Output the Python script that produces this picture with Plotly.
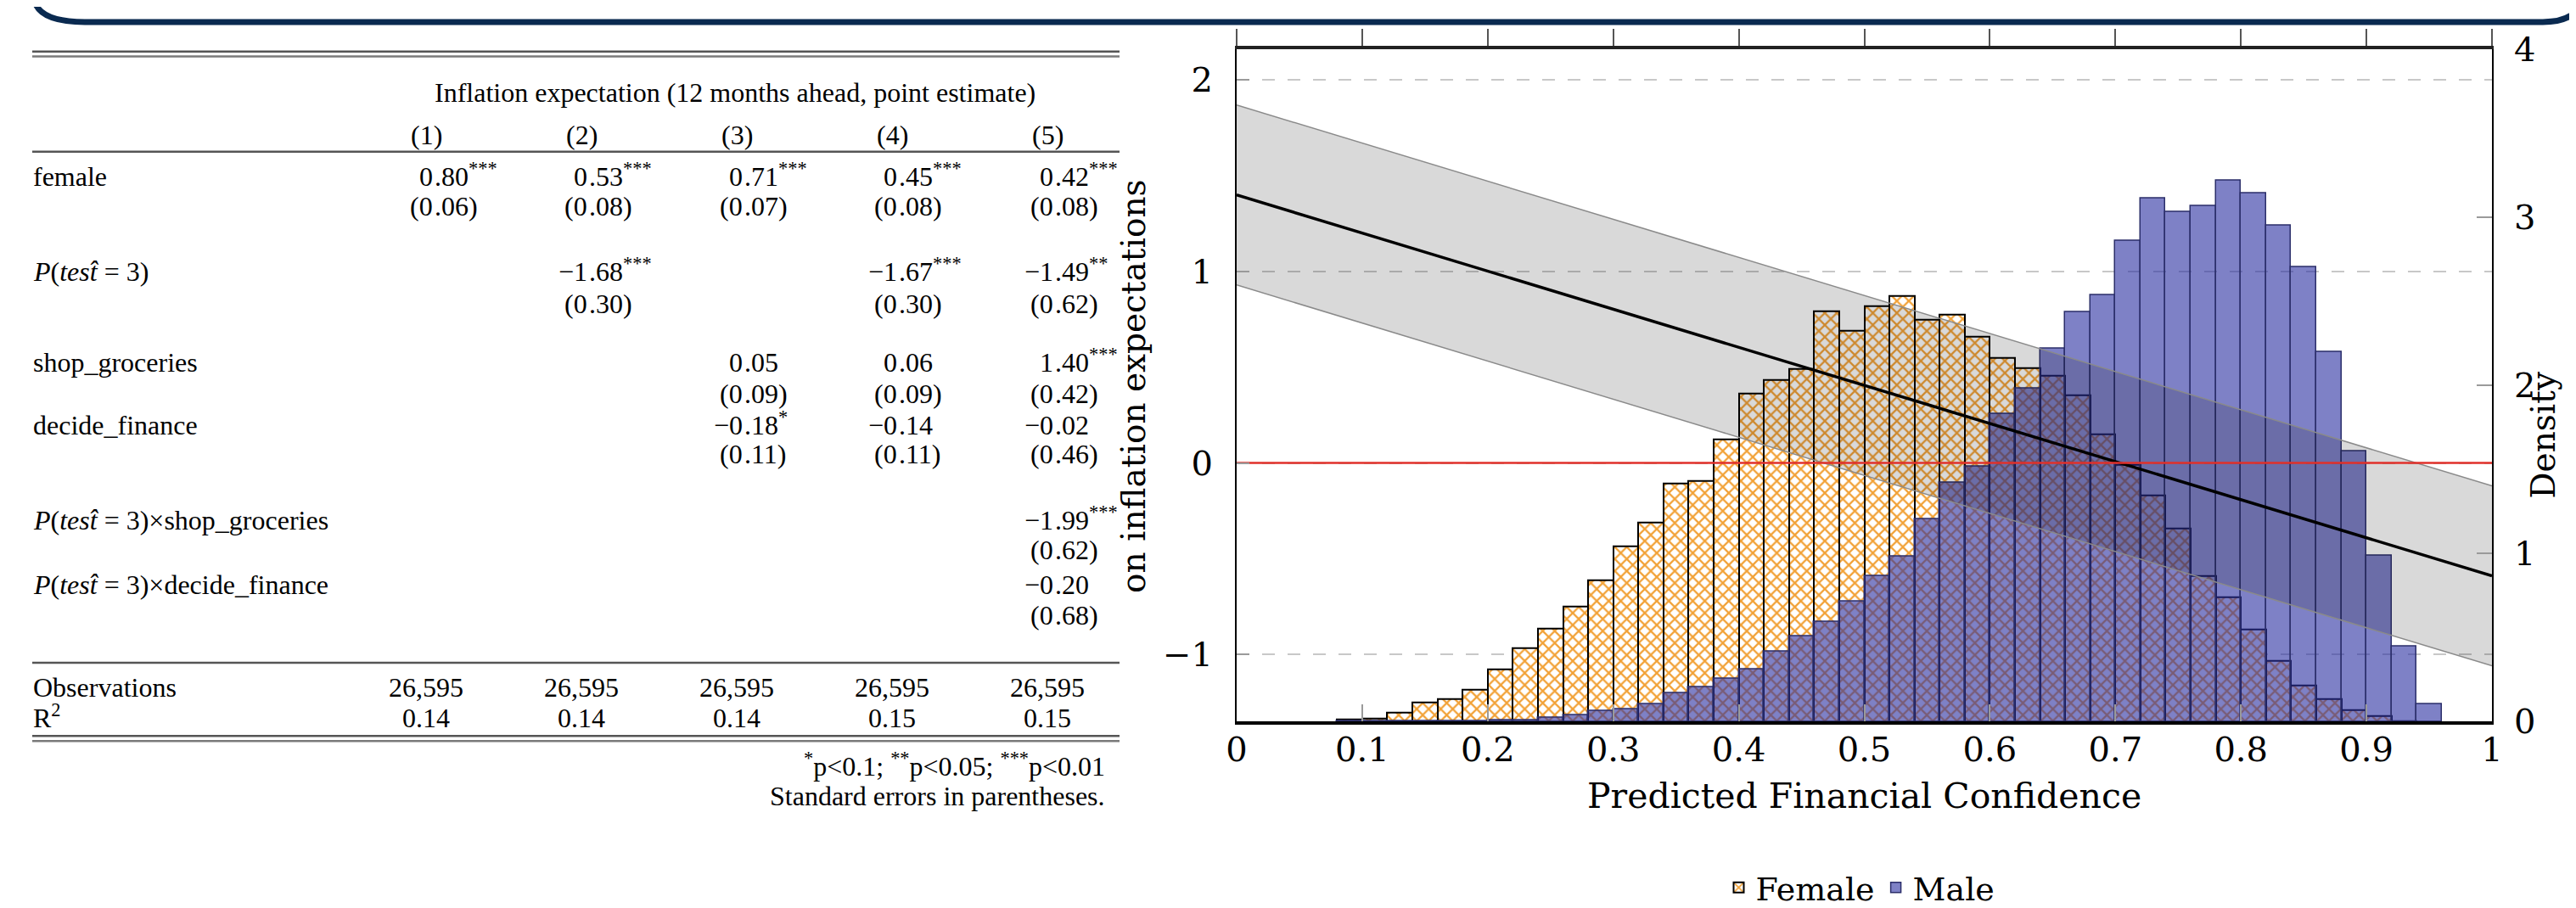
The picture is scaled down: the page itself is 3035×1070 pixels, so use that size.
import plotly.graph_objects as go

W, H = 3035, 1070
SERIF = "Liberation Serif, DejaVu Serif, serif"
CHART_SERIF = "DejaVu Serif, Liberation Serif, serif"

# ---------------- table data ----------------
table_header = "Inflation expectation (12 months ahead, point estimate)"
col_labels = ["(1)", "(2)", "(3)", "(4)", "(5)"]
row_labels = [
    "female",
    "<i>P</i>(<i>test\u0302</i> = 3)",
    "shop_groceries",
    "decide_finance",
    "<i>P</i>(<i>test\u0302</i> = 3)\u00d7shop_groceries",
    "<i>P</i>(<i>test\u0302</i> = 3)\u00d7decide_finance",
]
coef_female = ["0.80***", "0.53***", "0.71***", "0.45***", "0.42***"]
se_female = ["(0.06)", "(0.08)", "(0.07)", "(0.08)", "(0.08)"]
coef_ptest = [None, "\u22121.68***", None, "\u22121.67***", "\u22121.49**"]
se_ptest = [None, "(0.30)", None, "(0.30)", "(0.62)"]
coef_shop = [None, None, "0.05", "0.06", "1.40***"]
se_shop = [None, None, "(0.09)", "(0.09)", "(0.42)"]
coef_decide = [None, None, "\u22120.18*", "\u22120.14", "\u22120.02"]
se_decide = [None, None, "(0.11)", "(0.11)", "(0.46)"]
coef_int_shop = [None, None, None, None, "\u22121.99***"]
se_int_shop = [None, None, None, None, "(0.62)"]
coef_int_decide = [None, None, None, None, "\u22120.20"]
se_int_decide = [None, None, None, None, "(0.68)"]
observations = ["26,595", "26,595", "26,595", "26,595", "26,595"]
r_squared = ["0.14", "0.14", "0.14", "0.15", "0.15"]
footnote_1 = "<sup>*</sup>p&lt;0.1; <sup>**</sup>p&lt;0.05; <sup>***</sup>p&lt;0.01"
footnote_2 = "Standard errors in parentheses."

# ---------------- chart data ----------------
bin_left = [0.08, 0.10, 0.12, 0.14, 0.16, 0.18, 0.20, 0.22, 0.24, 0.26, 0.28,
            0.30, 0.32, 0.34, 0.36, 0.38, 0.40, 0.42, 0.44, 0.46, 0.48, 0.50,
            0.52, 0.54, 0.56, 0.58, 0.60, 0.62, 0.64, 0.66, 0.68, 0.70, 0.72,
            0.74, 0.76, 0.78, 0.80, 0.82, 0.84, 0.86, 0.88, 0.90, 0.92, 0.94]
bin_width = 0.02
female_density = [0.012, 0.017, 0.054, 0.114, 0.134, 0.19, 0.314, 0.439, 0.554,
                  0.686, 0.839, 1.042, 1.185, 1.415, 1.434, 1.68, 1.951, 2.034,
                  2.096, 2.44, 2.327, 2.47, 2.53, 2.392, 2.422, 2.288, 2.163,
                  2.105, 2.055, 1.939, 1.71, 1.527, 1.347, 1.15, 0.866, 0.741,
                  0.549, 0.364, 0.217, 0.133, 0.07, 0.036, 0.005, 0.0]
male_density = [0.003, 0.003, 0.004, 0.004, 0.004, 0.005, 0.007, 0.01, 0.024,
                0.037, 0.063, 0.075, 0.105, 0.168, 0.207, 0.256, 0.313, 0.417,
                0.51, 0.596, 0.716, 0.868, 0.981, 1.205, 1.42, 1.518, 1.831,
                1.984, 2.22, 2.435, 2.535, 2.861, 3.11, 3.03, 3.069, 3.218,
                3.143, 2.951, 2.703, 2.199, 1.607, 0.989, 0.45, 0.104]
effect_x = [0.0, 1.0]
effect_y = [1.40, -0.59]
ci_upper = [1.87, -0.12]
ci_lower = [0.93, -1.06]
zero_x = [0.0, 1.0]
zero_y = [0.0, 0.0]

x_ticks = [0, 0.1, 0.2, 0.3, 0.4, 0.5, 0.6, 0.7, 0.8, 0.9, 1]
left_ticks = [-1, 0, 1, 2]
right_ticks = [0, 1, 2, 3, 4]

# ---------------- layout helpers (pixel -> paper) ----------------
PLOT_L, PLOT_R, PLOT_T, PLOT_B = 1449, 2928, 50, 848


def px(x):
    return x / W


def py(y):
    return 1 - y / H


annotations = []


def text(x, y, s, xanchor="center", yanchor="middle", size=31, angle=0,
         family=SERIF):
    annotations.append(dict(
        x=px(x), y=py(y), xref="paper", yref="paper", text=s, showarrow=False,
        xanchor=xanchor, yanchor=yanchor, textangle=angle, borderpad=0,
        font=dict(family=family, size=size, color="black")))


TABLE_FONT = 32
BASE = 18  # offset from visual row centre to text-box bottom


def cell_text(x, y, s, xanchor):
    text(x, y + BASE, s, xanchor=xanchor, yanchor="bottom", size=TABLE_FONT)


def decimal_cell(dec_x, y, s):
    if s is None:
        return
    if "*" in s:
        i = s.index("*")
        num, stars = s[:i], s[i:]
    else:
        num, stars = s, ""
    d = num.index(".")
    left = num[:d]
    right = num[d:] + (f"<sup>{stars}</sup>" if stars else "")
    cell_text(dec_x, y, left, "right")
    cell_text(dec_x, y, right, "left")


# table geometry
TAB_L, TAB_R = 30, 1311
col_center = [494, 677, 860, 1043, 1226]
col_decimal = [503, 685, 868, 1050, 1234]
row_y = [202, 315, 423, 497, 610, 687]
se_y = [238, 353, 460, 532, 645, 723]
coef_rows = [coef_female, coef_ptest, coef_shop, coef_decide, coef_int_shop, coef_int_decide]
se_rows = [se_female, se_ptest, se_shop, se_decide, se_int_shop, se_int_decide]

cell_text(858, 103, table_header, "center")
for cx, lab in zip(col_center, col_labels):
    cell_text(cx, 153, lab, "center")
for lab, ry, sy, coefs, ses in zip(row_labels, row_y, se_y, coef_rows, se_rows):
    cell_text(TAB_L, ry, lab, "left")
    for dx, c, s in zip(col_decimal, coefs, ses):
        decimal_cell(dx, ry, c)
        decimal_cell(dx, sy, s)
cell_text(TAB_L, 808, "Observations", "left")
cell_text(TAB_L, 845, "R<sup>2</sup>", "left")
for cx, o, r in zip(col_center, observations, r_squared):
    cell_text(cx, 808, o, "center")
    cell_text(cx, 845, r, "center")
cell_text(1295, 902, footnote_1, "right")
cell_text(1295, 937, footnote_2, "right")

shapes = []


def hrule(y, color="#555555", width=2.5):
    shapes.append(dict(type="line", xref="paper", yref="paper",
                       x0=px(TAB_L), x1=px(TAB_R), y0=py(y), y1=py(y),
                       line=dict(color=color, width=width)))


hrule(53)
hrule(59, "#7a7a7a")
hrule(172)
hrule(778)
hrule(865)
hrule(871, "#7a7a7a")


def pp(x, y):
    return f"{px(x):.5f},{py(y):.5f}"


# navy frame (bottom of the slide block)
shapes.append(dict(
    type="path", xref="paper", yref="paper",
    path=(f"M {pp(33, -6)} Q {pp(40, 18)} {pp(92, 18)} L {pp(2988, 18)} "
          f"Q {pp(3026, 18)} {pp(3033, -6)}"),
    line=dict(color="#0a2a50", width=7)))

# chart titles
text(2188, 936, "Predicted Financial Confidence", size=41, family=CHART_SERIF)
text(2989, 508, "Density", size=39, angle=-90, family=CHART_SERIF)
text(1327, 450, "on inflation expectations", size=39, angle=-90,
     family=CHART_SERIF)

# ---------------- traces ----------------
fig = go.Figure()

fig.add_trace(go.Bar(
    x=bin_left, y=female_density, width=bin_width, offset=0, name="Female",
    xaxis="x", yaxis="y",
    marker=dict(color="white", line=dict(color="black", width=2),
                pattern=dict(shape="x", fgcolor="#f2a237", bgcolor="white",
                             size=10, solidity=0.4, fillmode="replace"))))
fig.add_trace(go.Bar(
    x=bin_left, y=male_density, width=bin_width, offset=0, name="Male",
    xaxis="x", yaxis="y",
    marker=dict(color="rgba(40,45,160,0.6)",
                line=dict(color="#2b2e6a", width=1.5))))

# top axis helper trace (no data)
fig.add_trace(go.Scatter(x=[], y=[], xaxis="x2", yaxis="y", showlegend=False,
                         hoverinfo="skip"))

fig.add_trace(go.Scatter(
    x=effect_x, y=ci_lower, mode="lines", xaxis="x", yaxis="y2", showlegend=False,
    line=dict(color="#8a8a8a", width=1.5)))
fig.add_trace(go.Scatter(
    x=effect_x, y=ci_upper, mode="lines", xaxis="x", yaxis="y2", showlegend=False,
    fill="tonexty", fillcolor="rgba(0,0,0,0.15)",
    line=dict(color="#8a8a8a", width=1.5)))
fig.add_trace(go.Scatter(
    x=effect_x, y=effect_y, mode="lines", xaxis="x", yaxis="y2", showlegend=False,
    line=dict(color="black", width=3.5)))
fig.add_trace(go.Scatter(
    x=zero_x, y=zero_y, mode="lines", xaxis="x", yaxis="y2", showlegend=False,
    line=dict(color="#e0302a", width=2.5)))

tickfont = dict(family=CHART_SERIF, size=40, color="black")
x_dom = [px(PLOT_L), px(PLOT_R)]
y_dom = [py(PLOT_B), py(PLOT_T)]

fig.update_layout(
    width=W, height=H,
    margin=dict(l=0, r=0, t=0, b=0),
    paper_bgcolor="white", plot_bgcolor="white",
    barmode="overlay", bargap=0,
    showlegend=True,
    legend=dict(orientation="h", x=px(2184), y=py(1045), xanchor="center",
                yanchor="middle",
                font=dict(family=CHART_SERIF, size=38, color="black"),
                bgcolor="rgba(0,0,0,0)", itemwidth=30, traceorder="normal"),
    xaxis=dict(domain=x_dom, range=[0, 1], tickvals=x_ticks, anchor="y",
               ticks="inside", ticklen=20, tickwidth=2, tickcolor="#9a9a9a",
               showline=True, linecolor="black", linewidth=4,
               showgrid=False, zeroline=False, tickfont=tickfont,
               ticklabelstandoff=-5, automargin=False),
    xaxis2=dict(domain=x_dom, range=[0, 1], tickvals=x_ticks, overlaying="x",
                anchor="y", side="top", ticks="outside", ticklen=20, tickwidth=2,
                tickcolor="#555555", showticklabels=False, showline=True,
                linecolor="#222222", linewidth=4, showgrid=False, zeroline=False,
                automargin=False),
    yaxis=dict(domain=y_dom, range=[0, 4], tickvals=right_ticks, side="right",
               anchor="x", ticks="inside", ticklen=18, tickwidth=2,
               tickcolor="#9a9a9a", showline=True, linecolor="black", linewidth=2,
               showgrid=False, zeroline=False, tickfont=tickfont,
               ticklabelstandoff=16, automargin=False),
    yaxis2=dict(domain=y_dom, range=[-1.352, 2.163], tickvals=left_ticks,
                overlaying="y", side="left", anchor="x", ticks="inside",
                ticklen=15, tickwidth=2, tickcolor="#9a9a9a", showline=True,
                linecolor="black", linewidth=2, showgrid=True,
                gridcolor="#c8c8c8", gridwidth=2, griddash="15px,15px",
                zeroline=False, tickfont=tickfont, ticklabelstandoff=18,
                automargin=False),
    annotations=annotations,
    shapes=shapes,
)

fig.write_html("out.html")
